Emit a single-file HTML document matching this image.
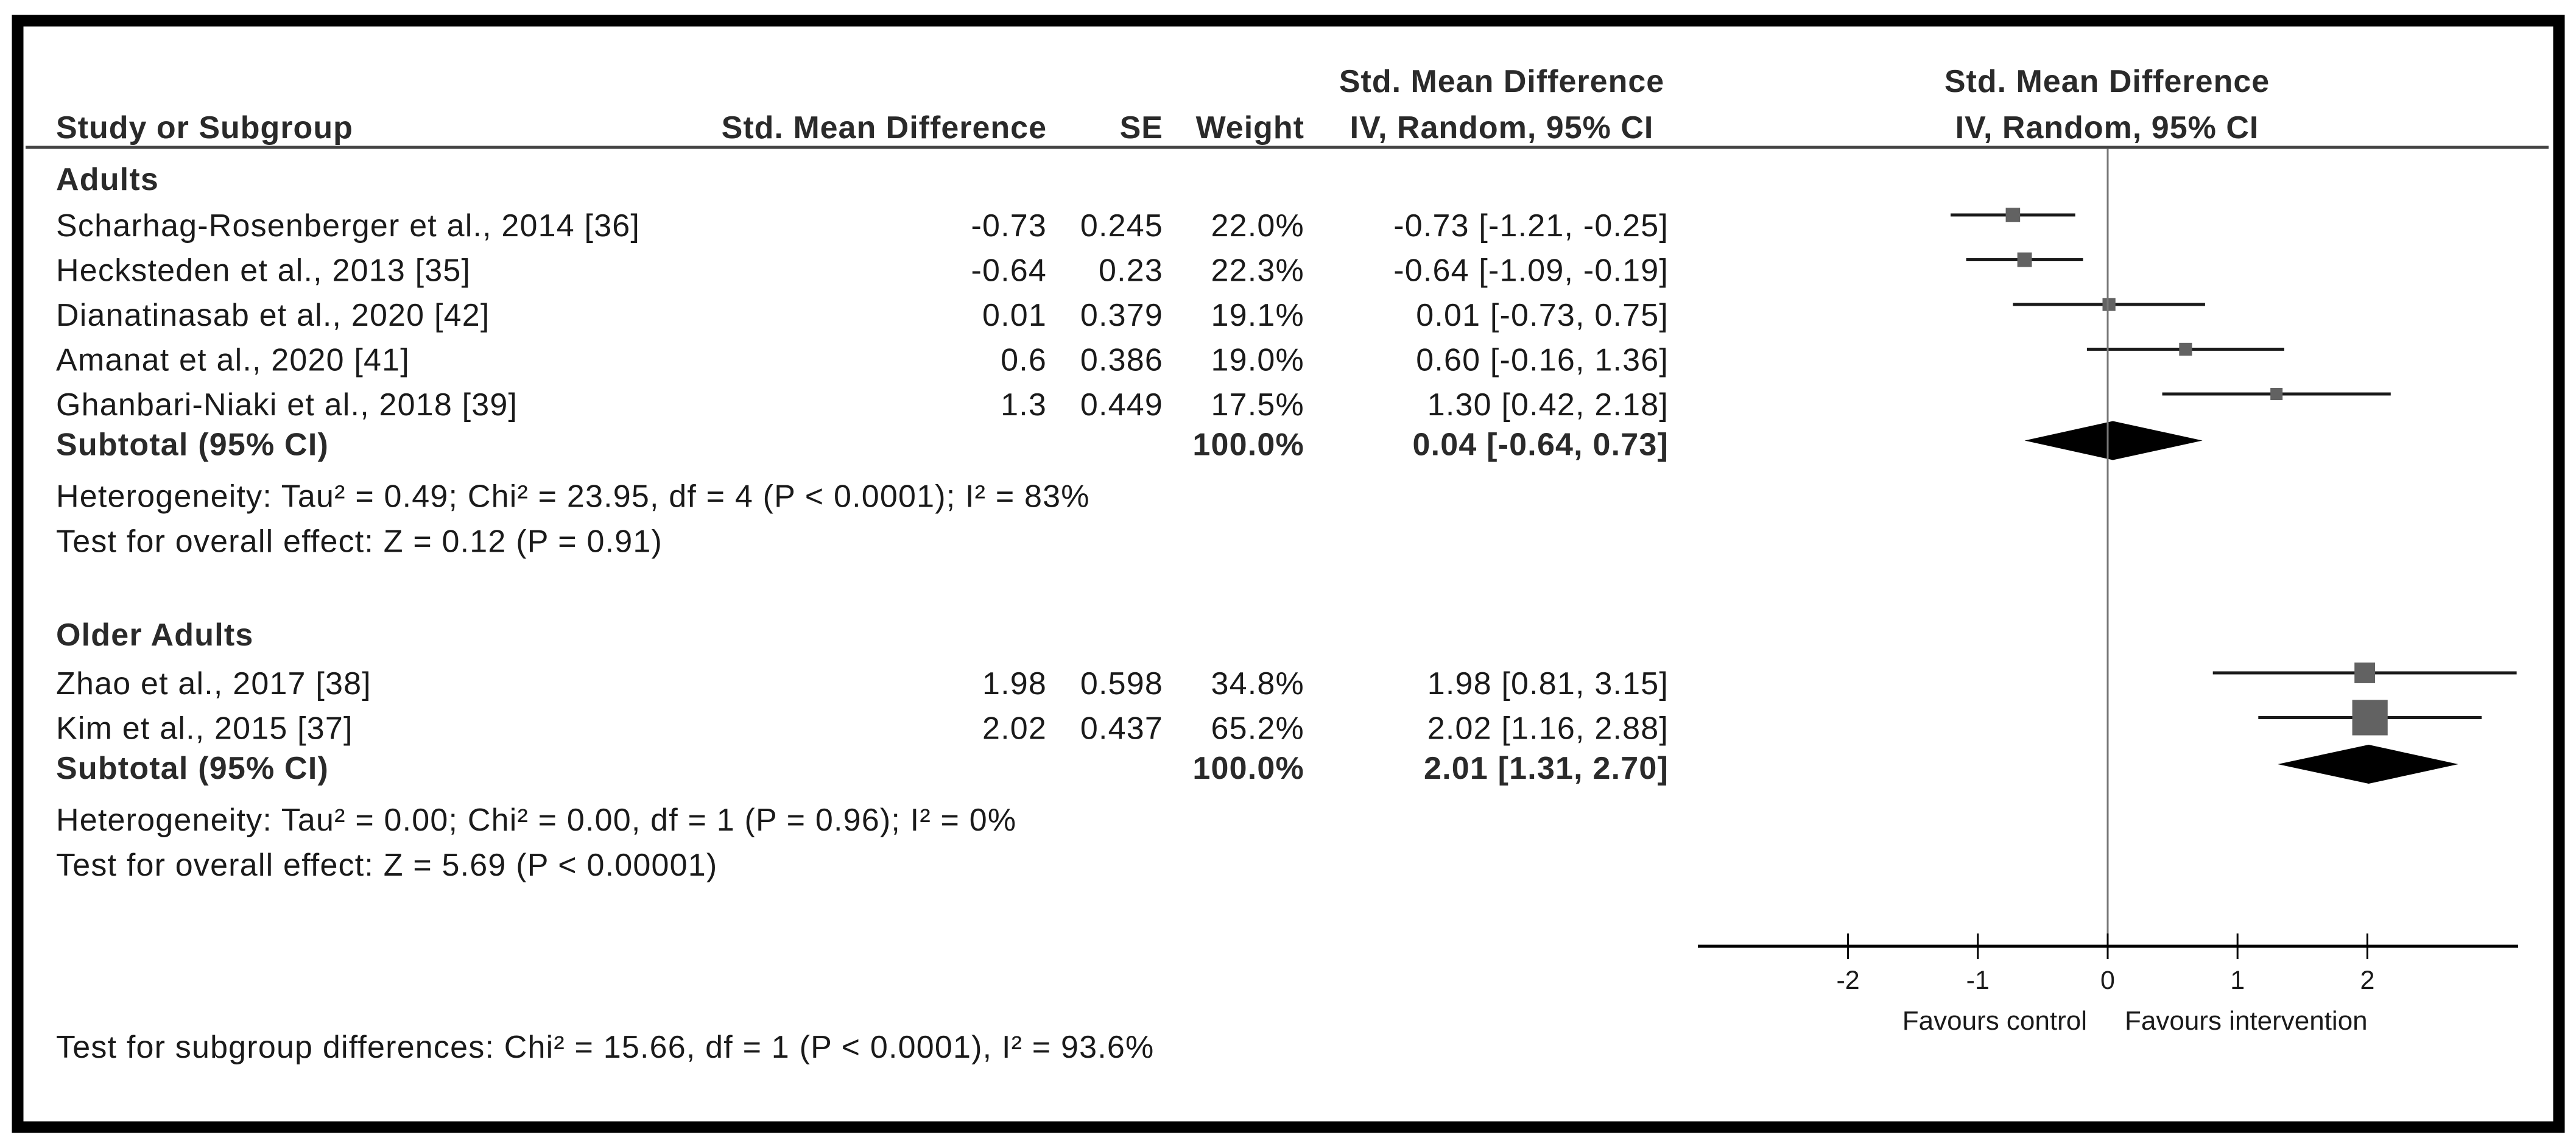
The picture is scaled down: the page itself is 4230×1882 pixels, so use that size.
<!DOCTYPE html>
<html><head><meta charset="utf-8"><style>
html,body{margin:0;padding:0;background:#fff;}
svg{display:block;}
text{font-family:"Liberation Sans",Arial,sans-serif;}
</style></head>
<body>
<svg id="chart" width="4230" height="1882" viewBox="0 0 4230 1882" xmlns="http://www.w3.org/2000/svg">
<rect x="0" y="0" width="4230" height="1882" fill="#fff"/>
<rect x="29" y="34" width="4173" height="1817" fill="none" stroke="#000" stroke-width="19"/>
<line x1="42" y1="242" x2="4185" y2="242" stroke="#444" stroke-width="5"/>
<g font-size="52" font-weight="bold" fill="#2a2a2a" letter-spacing="1">
<text x="92" y="227">Study or Subgroup</text>
<text x="1719" y="227" text-anchor="end">Std. Mean Difference</text>
<text x="1910" y="227" text-anchor="end">SE</text>
<text x="2142" y="227" text-anchor="end">Weight</text>
<text x="2466" y="151" text-anchor="middle">Std. Mean Difference</text>
<text x="2466" y="227" text-anchor="middle">IV, Random, 95% CI</text>
<text x="3460" y="151" text-anchor="middle">Std. Mean Difference</text>
<text x="3460" y="227" text-anchor="middle">IV, Random, 95% CI</text>
</g>
<g id="rows"></g>
<g id="plot"></g>
</svg>
<script>
// ---- data ----
const groupNames = ["Adults", "Older Adults"];
const studyNames = ["Scharhag-Rosenberger et al., 2014 [36]", "Hecksteden et al., 2013 [35]", "Dianatinasab et al., 2020 [42]", "Amanat et al., 2020 [41]", "Ghanbari-Niaki et al., 2018 [39]", "Zhao et al., 2017 [38]", "Kim et al., 2015 [37]"];
const studyGroup = [0, 0, 0, 0, 0, 1, 1];
const smdLabels = ["-0.73", "-0.64", "0.01", "0.6", "1.3", "1.98", "2.02"];
const smd = [-0.73, -0.64, 0.01, 0.60, 1.30, 1.98, 2.02];
const se = ["0.245", "0.23", "0.379", "0.386", "0.449", "0.598", "0.437"];
const weight = [22.0, 22.3, 19.1, 19.0, 17.5, 34.8, 65.2];
const ciLow = [-1.21, -1.09, -0.73, -0.16, 0.42, 0.81, 1.16];
const ciHigh = [-0.25, -0.19, 0.75, 1.36, 2.18, 3.15, 2.88];
const subEst = [0.04, 2.01];
const subLow = [-0.64, 1.31];
const subHigh = [0.73, 2.70];
const hetText = ["Heterogeneity: Tau\u00b2 = 0.49; Chi\u00b2 = 23.95, df = 4 (P < 0.0001); I\u00b2 = 83%", "Heterogeneity: Tau\u00b2 = 0.00; Chi\u00b2 = 0.00, df = 1 (P = 0.96); I\u00b2 = 0%"];
const effText = ["Test for overall effect: Z = 0.12 (P = 0.91)", "Test for overall effect: Z = 5.69 (P < 0.00001)"];
const tickValues = [-2, -1, 0, 1, 2];
const tickLabels = ["-2", "-1", "0", "1", "2"];
const subgroupTest = "Test for subgroup differences: Chi\u00b2 = 15.66, df = 1 (P < 0.0001), I\u00b2 = 93.6%";

// ---- scales ----
const X0 = 3461, UNIT = 213.2;
function xs(v){ return X0 + v * UNIT; }
const NS = "http://www.w3.org/2000/svg";
const rows = document.getElementById('rows');
const plot = document.getElementById('plot');
function mk(tag, attrs, parent){ const e = document.createElementNS(NS, tag); for (const k in attrs) e.setAttribute(k, attrs[k]); parent.appendChild(e); return e; }
function txt(s, x, y, parent, anchor, bold, size){
  const t = mk('text', {x:x, y:y, 'font-size': size||52, 'text-anchor': anchor||'start', fill: bold ? '#2a2a2a' : '#1a1a1a', 'letter-spacing': size ? 0 : 1.2}, parent);
  if (bold) t.setAttribute('font-weight','bold');
  t.textContent = s; return t;
}
const fmt = v => v.toFixed(2);

// group layout (baselines)
const groupStart = [312, 1060];
let sIdx = 0;
for (let g = 0; g < groupNames.length; g++) {
  let y = groupStart[g];
  const h = txt(groupNames[g], 92, y, rows, 'start', true);
  
  
  y += (g === 0 ? 76 : 80);
  const members = [];
  for (let i = 0; i < studyNames.length; i++) if (studyGroup[i] === g) members.push(i);
  members.forEach((i, k) => {
    const yy = y + k * 73.5;
    const n = txt(studyNames[i], 92, yy, rows);
    
    
    const a = txt(smdLabels[i], 1719, yy, rows, 'end');
    
    
    const b = txt(se[i], 1910, yy, rows, 'end');
    
    
    const c = txt(weight[i].toFixed(1) + '%', 2142, yy, rows, 'end');
    
    
    const d = txt(fmt(smd[i]) + ' [' + fmt(ciLow[i]) + ', ' + fmt(ciHigh[i]) + ']', 2740, yy, rows, 'end');
    
    
    const my = yy - 35;
    const ln = mk('line', {x1: xs(ciLow[i]), x2: xs(ciHigh[i]), y1: my, y2: my, stroke: '#1a1a1a', 'stroke-width': 5}, plot);
    
    
    const sz = 0.8 * weight[i] + 6;
    const bx = mk('rect', {x: xs(smd[i]) - sz/2, y: my - sz/2, width: sz, height: sz, fill: '#626262'}, plot);
    
    
  });
  const sy = y + members.length * 73.5 - 8;
  const st = txt('Subtotal (95% CI)', 92, sy, rows, 'start', true);
  
  
  const sw = txt('100.0%', 2142, sy, rows, 'end', true);
  
  
  const sc = txt(fmt(subEst[g]) + ' [' + fmt(subLow[g]) + ', ' + fmt(subHigh[g]) + ']', 2740, sy, rows, 'end', true);
  
  
  const dy = sy - 24;
  const dm = mk('polygon', {points: [xs(subLow[g]) + ',' + dy, xs(subEst[g]) + ',' + (dy - 32), xs(subHigh[g]) + ',' + dy, xs(subEst[g]) + ',' + (dy + 32)].join(' '), fill: '#000'}, plot);
  
  
  const ht = txt(hetText[g], 92, sy + 85, rows);
  
  
  const et = txt(effText[g], 92, sy + 159, rows);
  
  
}

// zero line and axis
const AXY = 1554;
const zl = mk('line', {x1: xs(0), x2: xs(0), y1: 244, y2: AXY, stroke: '#777', 'stroke-width': 3}, plot);


const ax = mk('line', {x1: 2788, x2: 4135, y1: AXY, y2: AXY, stroke: '#000', 'stroke-width': 5}, plot);


tickValues.forEach((v, i) => {
  const t = mk('line', {x1: xs(v), x2: xs(v), y1: AXY - 21, y2: AXY + 21, stroke: '#000', 'stroke-width': 3}, plot);
  
  
  const l = txt(tickLabels[i], xs(v), 1624, plot, 'middle', false, 43);
  
  
});
const fc = txt('Favours control', 3427, 1691, plot, 'end', false, 44);


const fi = txt('Favours intervention', 3489, 1691, plot, 'start', false, 44);


const sg = txt(subgroupTest, 92, 1737, rows);


</script>
</body></html>
